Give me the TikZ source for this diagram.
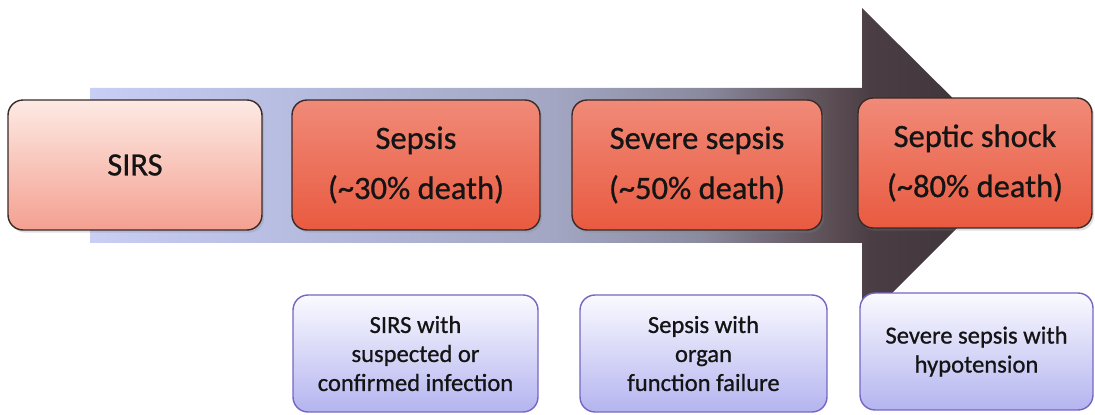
\documentclass[tikz,border=0pt]{standalone}
\usepackage{fontspec}
\setmainfont{Carlito}
\newfontfamily\lblfont{Carlito}[FakeBold=0.8]
\usetikzlibrary{shadows}
\definecolor{arL}{HTML}{C8CEF4}
\definecolor{arA}{HTML}{B8BEE2}
\definecolor{arM1}{HTML}{A2A6C2}
\definecolor{arM2}{HTML}{8A8A9E}
\definecolor{arM3}{HTML}{5A4C52}
\definecolor{arD}{HTML}{4A3E44}
\definecolor{arH}{HTML}{3A3034}
\definecolor{redT}{HTML}{F08A78}
\definecolor{redM}{HTML}{E6472B}
\definecolor{redB}{HTML}{E95A40}
\definecolor{pinkT}{HTML}{FDEAE4}
\definecolor{pinkB}{HTML}{F4A090}
\definecolor{bluT}{HTML}{FAFAFF}
\definecolor{bluB}{HTML}{B4B4F0}
\definecolor{bluE}{HTML}{7466C4}
\definecolor{edgeD}{HTML}{3A2A28}
\definecolor{txt}{HTML}{141414}
\pgfdeclarehorizontalshading{arrowshade}{100bp}{color(0bp)=(arL); color(25bp)=(arL); color(35bp)=(arA); color(50bp)=(arM1); color(58bp)=(arM2); color(65bp)=(arM3); color(67bp)=(arD); color(75bp)=(arH); color(100bp)=(arH)}
\tikzset{
  stage/.style={draw=edgeD, line width=0.8pt, rounded corners=0.3cm, align=center,
    text=txt, font=\lblfont\fontsize{18.5}{28.5}\selectfont, inner sep=0pt,
    minimum height=2.6cm,
    drop shadow={opacity=0.25, shadow xshift=1.2pt, shadow yshift=-1.5pt}},
  redstage/.style={stage, top color=redT, middle color=redM, bottom color=redB},
  pinkstage/.style={stage, top color=pinkT, bottom color=pinkB},
  defbox/.style={draw=bluE, line width=0.8pt, rounded corners=0.3cm, align=center,
    text=txt, font=\lblfont\fontsize{14}{16.5}\selectfont, inner sep=0pt,
    minimum height=2.34cm, top color=bluT, bottom color=bluB}
}
\begin{document}
\begin{tikzpicture}[x=0.02cm, y=-0.02cm]
\useasboundingbox (0,0) rectangle (1095,415);
% big arrow
\shade[shading=arrowshade] (90,88) -- (862,88) -- (862,8) -- (1020,165) -- (862,323) -- (862,243) -- (90,243) -- cycle;
% stages
\node[pinkstage, minimum width=5.08cm] (sirs) at (135,165) {SIRS};
\node[redstage, minimum width=4.96cm] (sepsis) at (416,165) {Sepsis\\(\textasciitilde 30\% death)};
\node[redstage, minimum width=5.0cm] (severe) at (697,165) {Severe sepsis\\(\textasciitilde 50\% death)};
\node[redstage, minimum width=4.68cm] (shock) at (975,163) {Septic shock\\(\textasciitilde 80\% death)};
% definitions
\node[defbox, minimum width=4.9cm] (d1) at (415.5,353.5) {SIRS with\\suspected or\\confirmed infection};
\node[defbox, minimum width=4.94cm] (d2) at (703.5,353.5) {Sepsis with\\organ\\function failure};
\node[defbox, minimum width=4.66cm] (d3) at (976.5,351.5) {Severe sepsis with\\hypotension};
\end{tikzpicture}
\end{document}
